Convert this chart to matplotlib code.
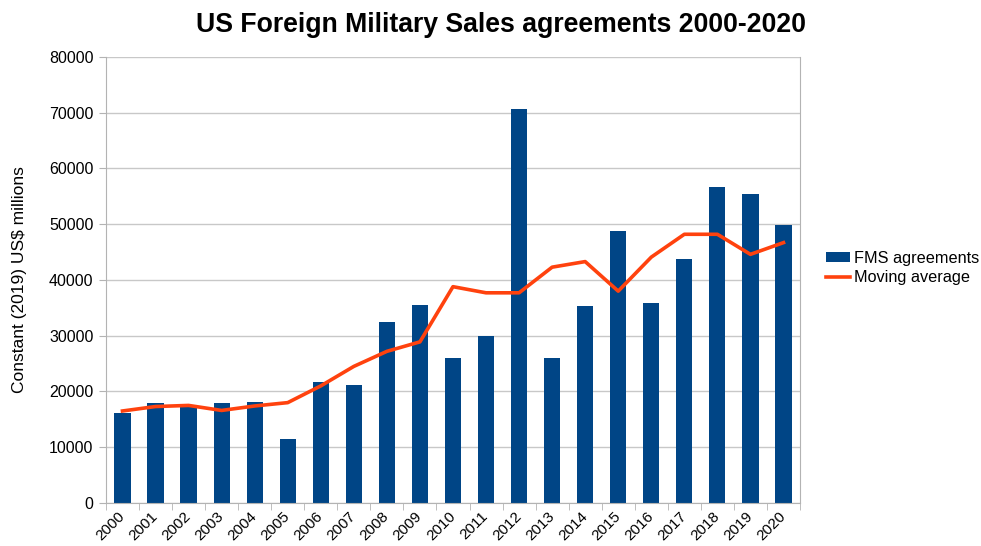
import matplotlib.pyplot as plt
import numpy as np

plt.rcParams['font.family'] = ['Liberation Sans', 'DejaVu Sans']

years = [str(y) for y in range(2000, 2021)]
fms_agreements = [16100, 17900, 17500, 17900, 18100, 11500, 21700, 21100, 32500, 35500,
                  26000, 30000, 70700, 26000, 35300, 48800, 35900, 43700, 56700, 55400, 49900]
moving_average = [16500, 17300, 17500, 16600, 17400, 18000, 21000, 24500, 27200, 28900,
                  38800, 37700, 37700, 42300, 43300, 38000, 44100, 48200, 48200, 44600, 46700]

fig = plt.figure(figsize=(9.81, 5.46), dpi=100)
ax = fig.add_axes([0.108, 0.0788, 0.7075, 0.8168])

x = np.arange(len(years))
bars = ax.bar(x, fms_agreements, width=0.49, color='#004586', label='FMS agreements', zorder=2)
line, = ax.plot(x, moving_average, color='#ff420e', linewidth=2.6, label='Moving average', zorder=3)

ax.set_xlim(-0.5, len(years) - 0.5)
ax.set_ylim(0, 80000)
ax.set_yticks(range(0, 80001, 10000))
ax.yaxis.grid(True, color='#c8c8c8', linewidth=1)
ax.set_axisbelow(True)

ax.set_xticks(x)
ax.set_xticklabels(years, rotation=45, ha='right', va='center',
                   rotation_mode='anchor', fontsize=11)
ax.set_xticks(np.arange(-0.5, len(years)), minor=True)
ax.tick_params(axis='x', which='major', length=0, pad=8)
ax.tick_params(axis='x', which='minor', length=5, color='#b3b3b3')
ax.tick_params(axis='y', length=5, color='#b3b3b3', labelsize=11.5, pad=4)

for side in ['left', 'bottom', 'right']:
    ax.spines[side].set_color('#b3b3b3')
ax.spines['top'].set_visible(False)

ax.set_ylabel('Constant (2019) US$ millions', fontsize=12.5, labelpad=16)
fig.text(0.511, 0.954, 'US Foreign Military Sales agreements 2000-2020', fontsize=19.2,
         fontweight='bold', ha='center', va='center')

fig.legend([bars, line], ['FMS agreements', 'Moving average'],
           loc='center left', bbox_to_anchor=(0.842, 0.509), frameon=False,
           borderpad=0, borderaxespad=0, fontsize=11.7, handlelength=1.5,
           handleheight=0.6, handletextpad=0.2, labelspacing=0.25)

fig.savefig('out.png', dpi=100, facecolor='white')
